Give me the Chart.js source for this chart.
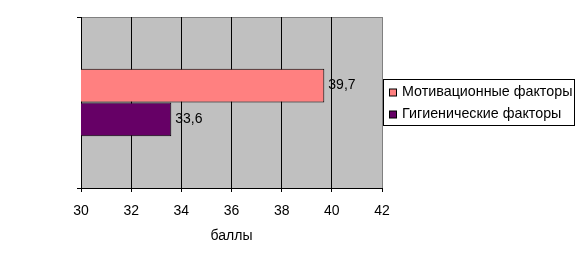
<!DOCTYPE html>
<html>
<head>
<meta charset="utf-8">
<script src="https://cdn.jsdelivr.net/npm/chart.js@4/dist/chart.umd.min.js"></script>
<style>
  body { margin: 0; background: #fff; }
  #wrap { width: 582px; height: 257px; }
</style>
</head>
<body>
<div id="wrap"><canvas id="chart" width="582" height="257"></canvas></div>
<script>
// данные
var categories = ['']
var seriesNames = ['Мотивационные факторы', 'Гигиенические факторы']
var motivValues = [39.7]
var hygValues = [33.6]
var seriesColors = ['#FF8080', '#660066']
var xTicks = [30, 32, 34, 36, 38, 40, 42]
var axisTitle = 'баллы'

var FONT = 'Liberation Sans, Arial, sans-serif'

// серый фон области построения
var bgPlugin = {
    id: 'bg',
    beforeDraw: function (chart) {
        var a = chart.chartArea
        var ctx = chart.ctx
        ctx.save()
        ctx.fillStyle = '#C0C0C0'
        ctx.fillRect(a.left, a.top, a.right - a.left, a.bottom - a.top)
        ctx.strokeStyle = '#808080'
        ctx.lineWidth = 1
        ctx.beginPath()
        ctx.moveTo(a.left, a.top + 0.5)
        ctx.lineTo(a.right + 0.5, a.top + 0.5)
        ctx.lineTo(a.right + 0.5, a.bottom)
        ctx.stroke()
        ctx.restore()
    }
}

// подписи значений
var labelPlugin = {
    id: 'valueLabels',
    afterDatasetsDraw: function (chart) {
        var ctx = chart.ctx
        ctx.save()
        ctx.font = '14px ' + FONT
        ctx.fillStyle = '#000'
        ctx.textBaseline = 'middle'
        ctx.textAlign = 'left'
        chart.data.datasets.forEach(function (ds, i) {
            chart.getDatasetMeta(i).data.forEach(function (bar, j) {
                var txt = String(ds.data[j]).replace('.', ',')
                ctx.fillText(txt, bar.x + 4, bar.y)
            })
        })
        ctx.restore()
    }
}

// легенда в рамке справа
var legendPlugin = {
    id: 'boxLegend',
    afterDraw: function (chart) {
        var ctx = chart.ctx
        var x = 383, y = 79, w = 191, h = 46
        ctx.save()
        ctx.fillStyle = '#fff'
        ctx.fillRect(x, y, w, h)
        ctx.strokeStyle = '#000'
        ctx.lineWidth = 1
        ctx.strokeRect(x + 0.5, y + 0.5, w, h)
        ctx.font = '14.3px ' + FONT
        ctx.textBaseline = 'middle'
        var rows = [92.5, 114.5]
        chart.data.datasets.forEach(function (ds, i) {
            var cy = rows[i]
            ctx.fillStyle = ds.backgroundColor
            ctx.fillRect(389.5, cy - 3.5, 7, 7)
            ctx.strokeStyle = '#000'
            ctx.strokeRect(389.5, cy - 3.5, 7, 7)
            ctx.fillStyle = '#000'
            ctx.fillText(ds.label, 402, cy)
        })
        ctx.restore()
    }
}

var ctx = document.getElementById('chart').getContext('2d')
var chart = new Chart(ctx, {
    type: 'bar',
    data: {
        labels: categories,
        datasets: [
            {
                label: seriesNames[0],
                data: motivValues,
                backgroundColor: seriesColors[0],
                borderColor: '#000',
                borderWidth: 1,
                borderSkipped: false
            },
            {
                label: seriesNames[1],
                data: hygValues,
                backgroundColor: seriesColors[1],
                borderColor: '#000',
                borderWidth: 1,
                borderSkipped: false
            }
        ]
    },
    options: {
        indexAxis: 'y',
        responsive: false,
        animation: false,
        devicePixelRatio: 1,
        layout: { padding: { left: 0, right: 200, top: 17, bottom: 0 } },
        categoryPercentage: 0.395,
        barPercentage: 1,
        plugins: {
            legend: { display: false },
            tooltip: { enabled: false }
        },
        scales: {
            x: {
                type: 'linear',
                min: 30,
                max: 42,
                afterBuildTicks: function (scale) {
                    scale.ticks = xTicks.map(function (v) { return { value: v } })
                },
                ticks: {
                    color: '#000',
                    font: { family: FONT, size: 14 },
                    padding: 11
                },
                grid: {
                    color: function (c) { return c.tick && c.tick.value === 42 ? '#808080' : '#000' },
                    tickColor: '#000',
                    tickLength: 4
                },
                border: { color: '#000' },
                title: {
                    display: true,
                    text: axisTitle,
                    color: '#000',
                    font: { family: FONT, size: 14 },
                    padding: { top: 2, bottom: 12 }
                },
                afterFit: function (scale) { scale.height = 69 }
            },
            y: {
                offset: true,
                ticks: { display: false },
                grid: {
                    offset: true,
                    drawOnChartArea: false,
                    color: '#000',
                    tickLength: 4
                },
                border: { color: '#000' },
                afterFit: function (scale) { scale.width = 81 }
            }
        }
    },
    plugins: [bgPlugin, labelPlugin, legendPlugin]
})
</script>
</body>
</html>
